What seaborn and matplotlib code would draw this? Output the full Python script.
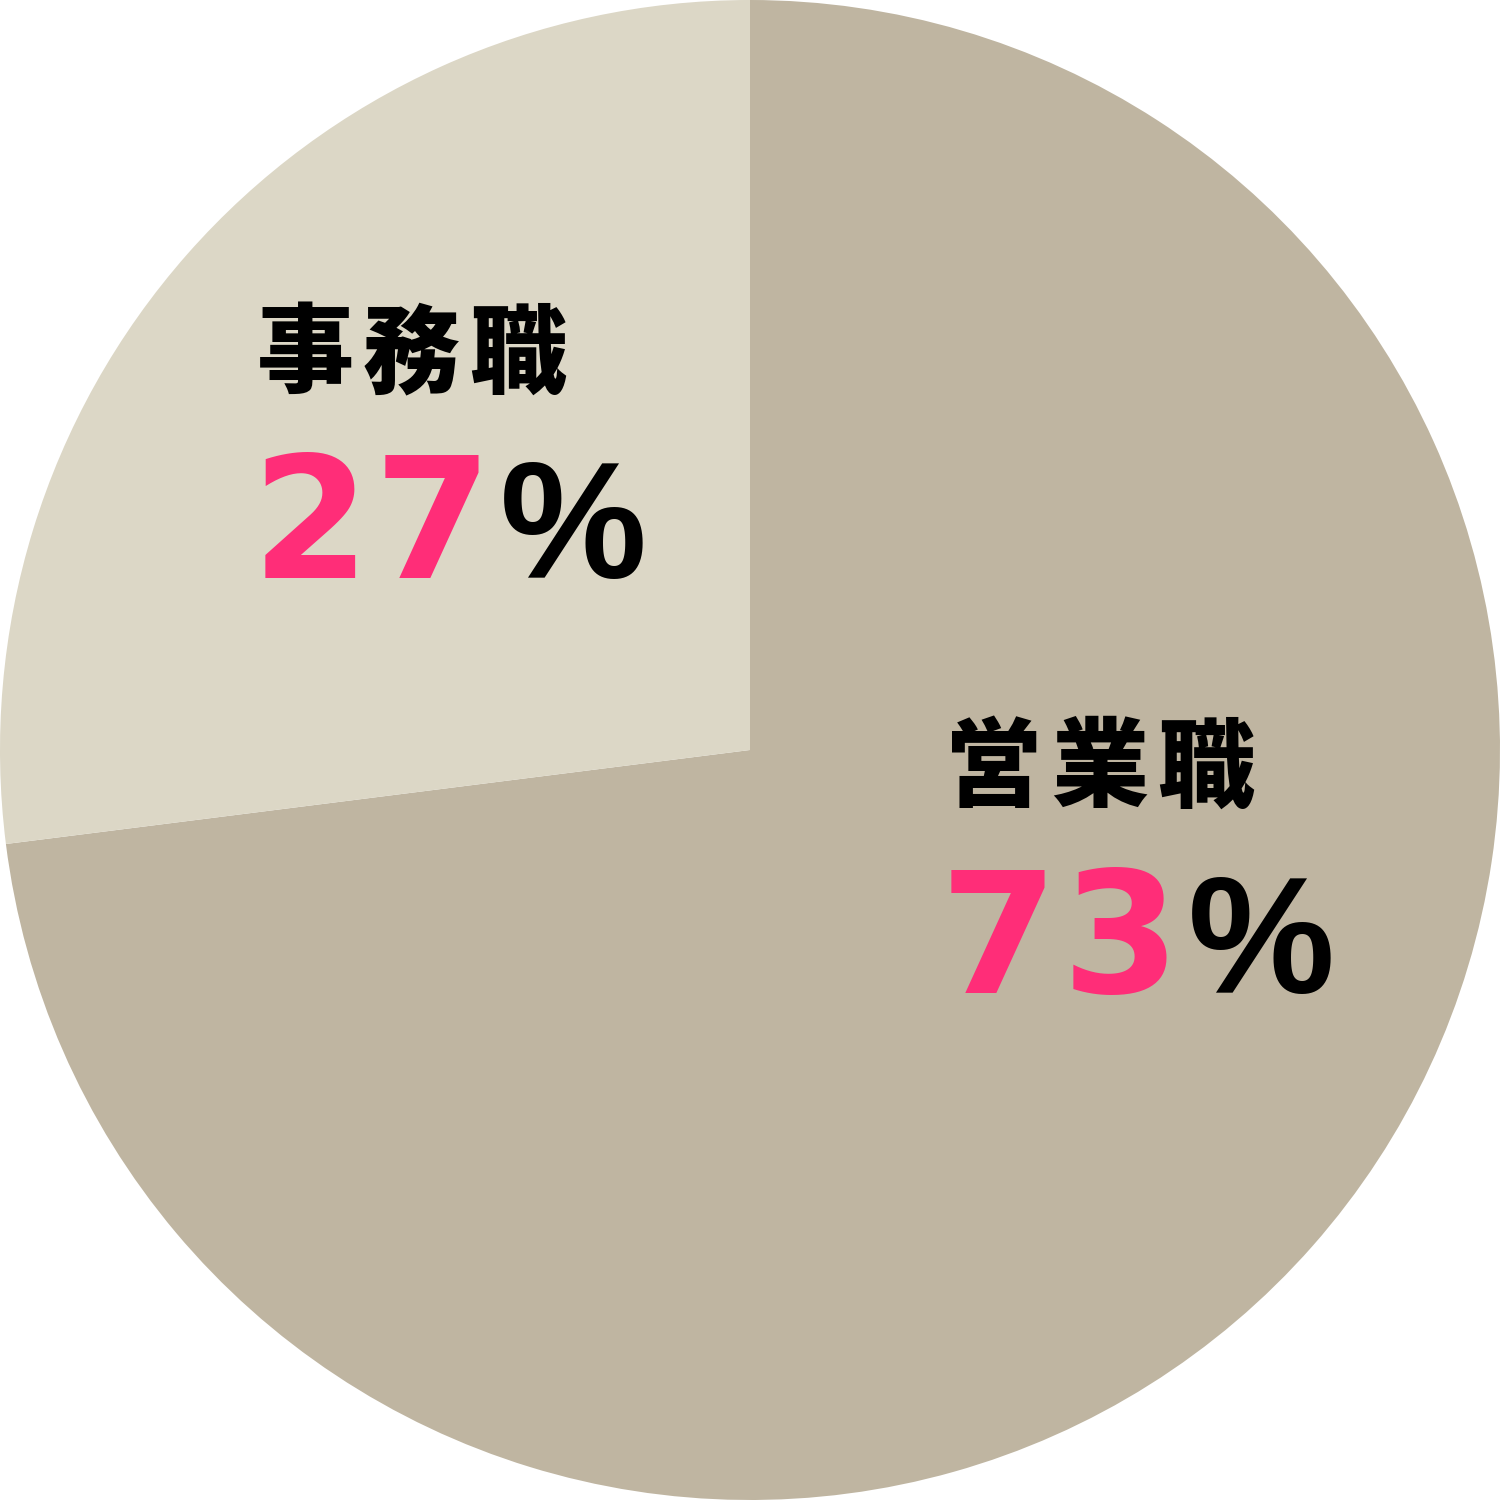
import matplotlib
matplotlib.use('Agg')
import matplotlib.pyplot as plt
import seaborn as sns

# Data
labels = ['営業職', '事務職']
shares = [73, 27]
slice_colors = ['#BFB5A1', '#DCD7C6']

sns.set_theme(style='white')
plt.rcParams['font.family'] = ['Noto Sans CJK JP', 'DejaVu Sans']

fig = plt.figure(figsize=(15, 15), dpi=100)
ax = fig.add_axes([0, 0, 1, 1])
ax.pie(shares, colors=sns.color_palette(slice_colors), startangle=90,
       counterclock=False, radius=1.0, wedgeprops={'linewidth': 0})
ax.set_xlim(-1, 1)
ax.set_ylim(-1, 1)
ax.set_aspect('equal')
ax.axis('off')

px = 1 / 750.0  # data units per pixel
# label anchor positions (left edge, name centre y, number baseline y)
anchors = {'営業職': (948, 770, 993), '事務職': (260, 356, 578)}
pink = '#FF2D78'

for name, val in zip(labels, shares):
    xl, yc, yb = anchors[name]
    for i, ch in enumerate(name):
        ax.text((xl - 3 - 750 + i * 106) * px, (750 - yc) * px, ch,
                fontsize=70, fontweight='black', color='black',
                ha='left', va='center', family=['Noto Sans CJK JP'])
    digits = str(val)
    for i, ch in enumerate(digits):
        ax.text((xl - 8 - 750 + i * 122) * px, (750 - yb) * px, ch,
                fontsize=122, fontweight='bold', color=pink,
                ha='left', va='baseline', family=['DejaVu Sans'])
    ax.text((xl - 4 - 750 + len(digits) * 122) * px, (750 - yb) * px, '%',
            fontsize=119, fontweight='bold', color='black',
            ha='left', va='baseline', family=['Liberation Sans'])

fig.savefig('out.png', dpi=100, facecolor='white')
